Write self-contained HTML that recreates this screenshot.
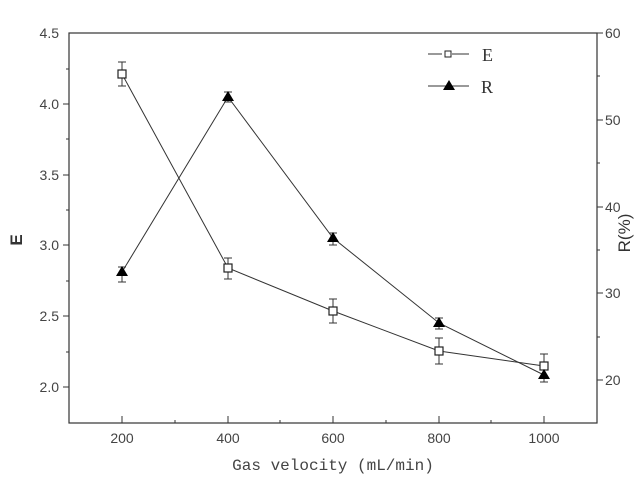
<!DOCTYPE html>
<html><head><style>body{margin:0;background:#fff}</style></head><body>
<svg width="639" height="495" xmlns="http://www.w3.org/2000/svg" font-family="Liberation Sans, sans-serif">
<rect width="639" height="495" fill="#fff"/>
<rect x="69" y="33" width="528" height="390" fill="none" stroke="#333" stroke-width="1.2"/>
<g stroke="#333" stroke-width="1">
<line x1="63" y1="104" x2="69" y2="104"/><line x1="63" y1="175" x2="69" y2="175"/><line x1="63" y1="245" x2="69" y2="245"/><line x1="63" y1="316" x2="69" y2="316"/><line x1="63" y1="387" x2="69" y2="387"/>
<line x1="66" y1="69" x2="69" y2="69"/><line x1="66" y1="139" x2="69" y2="139"/><line x1="66" y1="210" x2="69" y2="210"/><line x1="66" y1="281" x2="69" y2="281"/><line x1="66" y1="352" x2="69" y2="352"/>
<line x1="597" y1="33" x2="603" y2="33"/><line x1="597" y1="120" x2="603" y2="120"/><line x1="597" y1="207" x2="603" y2="207"/><line x1="597" y1="293" x2="603" y2="293"/><line x1="597" y1="380" x2="603" y2="380"/>
<line x1="597" y1="76" x2="600" y2="76"/><line x1="597" y1="163" x2="600" y2="163"/><line x1="597" y1="250" x2="600" y2="250"/><line x1="597" y1="337" x2="600" y2="337"/>
<line x1="122" y1="423" x2="122" y2="416"/><line x1="228" y1="423" x2="228" y2="416"/><line x1="333" y1="423" x2="333" y2="416"/><line x1="439" y1="423" x2="439" y2="416"/><line x1="544" y1="423" x2="544" y2="416"/>
<line x1="175" y1="423" x2="175" y2="420"/><line x1="280" y1="423" x2="280" y2="420"/><line x1="386" y1="423" x2="386" y2="420"/><line x1="491" y1="423" x2="491" y2="420"/>
</g>
<g font-size="14" fill="#444" text-anchor="end">
<text x="59" y="38">4.5</text><text x="59" y="109">4.0</text><text x="59" y="180">3.5</text><text x="59" y="250">3.0</text><text x="59" y="321">2.5</text><text x="59" y="392">2.0</text>
</g>
<g font-size="14" fill="#444">
<text x="605" y="38">60</text><text x="605" y="125">50</text><text x="605" y="212">40</text><text x="605" y="298">30</text><text x="605" y="385">20</text>
</g>
<g font-size="14" fill="#444" text-anchor="middle">
<text x="122" y="443">200</text><text x="228" y="443">400</text><text x="333" y="443">600</text><text x="439" y="443">800</text><text x="544" y="443">1000</text>
</g>
<text x="22" y="240" font-size="17" font-weight="bold" fill="#333" transform="rotate(-90 22 240)" text-anchor="middle">E</text>
<text x="630" y="233" font-size="17" fill="#333" transform="rotate(-90 630 233)" text-anchor="middle">R(%)</text>
<text x="333" y="470" font-size="16" fill="#444" text-anchor="middle" font-family="Liberation Mono, monospace">Gas velocity (mL/min)</text>
<g stroke="#333" stroke-width="1" fill="none">
<polyline points="122,74 228,268 333,311 439,351 544,366"/>
<polyline points="122,272 228,97 333,238 439,323 544,375"/>
<path d="M122,62V86M118,62H126M118,86H126 M228,258V279M224,258H232M224,279H232 M333,299V323M329,299H337M329,323H337 M439,338V364M435,338H443M435,364H443 M544,354V378M540,354H548M540,378H548"/>
<path d="M122,267V282M118,267H126M118,282H126 M228,92V102M224,92H232M224,102H232 M333,233V245M329,233H337M329,245H337 M439,318V329M435,318H443M435,329H443 M544,370V382M540,370H548M540,382H548"/>
</g>
<g fill="#fff" stroke="#222" stroke-width="1.2">
<rect x="118" y="70" width="8" height="8"/><rect x="224" y="264" width="8" height="8"/><rect x="329" y="307" width="8" height="8"/><rect x="435" y="347" width="8" height="8"/><rect x="540" y="362" width="8" height="8"/>
</g>
<g fill="#000">
<path d="M122,266l6,10h-12z"/><path d="M228,91l6,10h-12z"/><path d="M333,232l6,10h-12z"/><path d="M439,317l6,10h-12z"/><path d="M544,369l6,10h-12z"/>
</g>
<g stroke="#333" stroke-width="1"><line x1="428" y1="54" x2="442" y2="54"/><line x1="452" y1="54" x2="469" y2="54"/><line x1="428" y1="86" x2="469" y2="86"/></g>
<rect x="445" y="51" width="6" height="6" fill="#fff" stroke="#222"/>
<path d="M449,80l6,10h-12z" fill="#000"/>
<g font-family="Liberation Serif, serif" font-size="18" fill="#333"><text x="482" y="61">E</text><text x="481" y="93">R</text></g>
</svg>
</body></html>
